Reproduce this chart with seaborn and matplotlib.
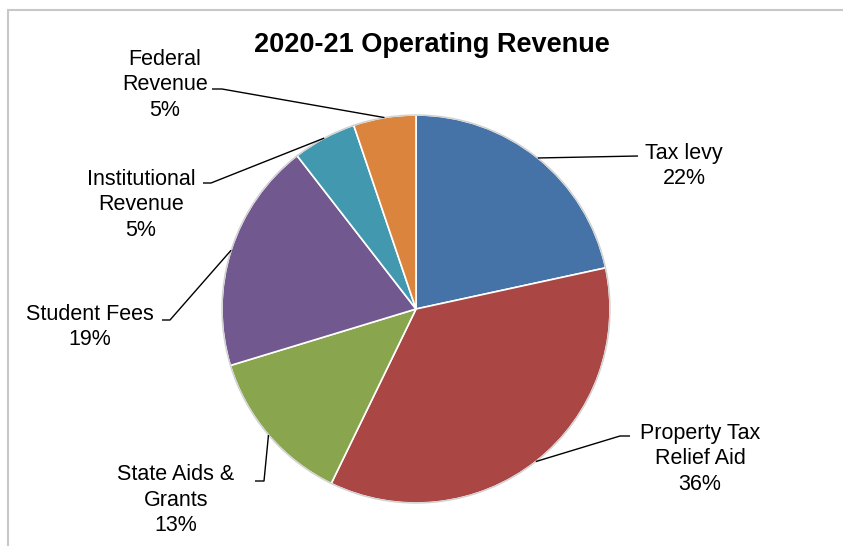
import numpy as np
import matplotlib
matplotlib.use("Agg")
import matplotlib.pyplot as plt
from matplotlib.lines import Line2D
from matplotlib.patches import Circle
import seaborn as sns

# data
categories = ['Tax levy', 'Property Tax\nRelief Aid', 'State Aids &\nGrants',
              'Student Fees', 'Institutional\nRevenue', 'Federal\nRevenue']
shares = [21.6, 35.6, 13.1, 19.2, 5.3, 5.2]
colors = sns.color_palette(['#4572A7', '#AA4643', '#89A54E', '#71588F', '#4198AF', '#DB843D'])

sns.set_style('white')
plt.rcParams['font.family'] = ['Liberation Sans', 'DejaVu Sans']

W, H = 843, 546
def y(v):
    # pixel row (from top) -> data y
    return H - v

fig = plt.figure(figsize=(W / 100, H / 100), dpi=100)
ax = fig.add_axes([0, 0, 1, 1])

cx, cy, r = 416, y(309), 194
wedges, _ = ax.pie(shares, colors=colors, startangle=90, counterclock=False,
                   center=(cx, cy), radius=r,
                   wedgeprops=dict(edgecolor='white', linewidth=1.2))
ax.add_patch(Circle((cx, cy), r, fill=False, edgecolor='#d0d0d0', linewidth=1))
ax.set_xlim(0, W)
ax.set_ylim(0, H)
ax.set_aspect('equal')
ax.axis('off')

# label layout: text centre, elbow of leader, leader end next to text
text_pos = [(684, 166), (700, 459), (176, 500), (90, 327), (141, 205), (165, 85)]
elbow = [(638, 156), (620, 436), (264, 481), (170, 320), (211, 183), (222, 89)]
line_end = [(638, 156), (630, 436), (255, 481), (162, 320), (203, 183), (212, 89)]

total = sum(shares)
for w, lab, v, tp, el, le in zip(wedges, categories, shares, text_pos, elbow, line_end):
    mid = np.deg2rad((w.theta1 + w.theta2) / 2)
    ax_, ay_ = cx + r * np.cos(mid), cy + r * np.sin(mid)
    ax.plot([ax_, el[0], le[0]], [ay_, y(el[1]), y(le[1])], color='black', lw=1,
            solid_capstyle='butt')
    ax.text(tp[0], y(tp[1]), f"{lab}\n{round(v / total * 100)}%", ha='center', va='center',
            fontsize=15.5, linespacing=1.3, color='black')

ax.text(432, y(45), '2020-21 Operating Revenue', ha='center', va='center',
        fontsize=19.5, fontweight='bold', color='black')

# outer chart frame (partially cropped)
fig.add_artist(Line2D([8 / W, 1], [1 - 9.5 / H] * 2, transform=fig.transFigure,
                      color='#c8c8c8', lw=1.5))
fig.add_artist(Line2D([8 / W] * 2, [1 - 9.5 / H, 0], transform=fig.transFigure,
                      color='#c8c8c8', lw=1.5))

fig.savefig('out.png', dpi=100, facecolor='white')
